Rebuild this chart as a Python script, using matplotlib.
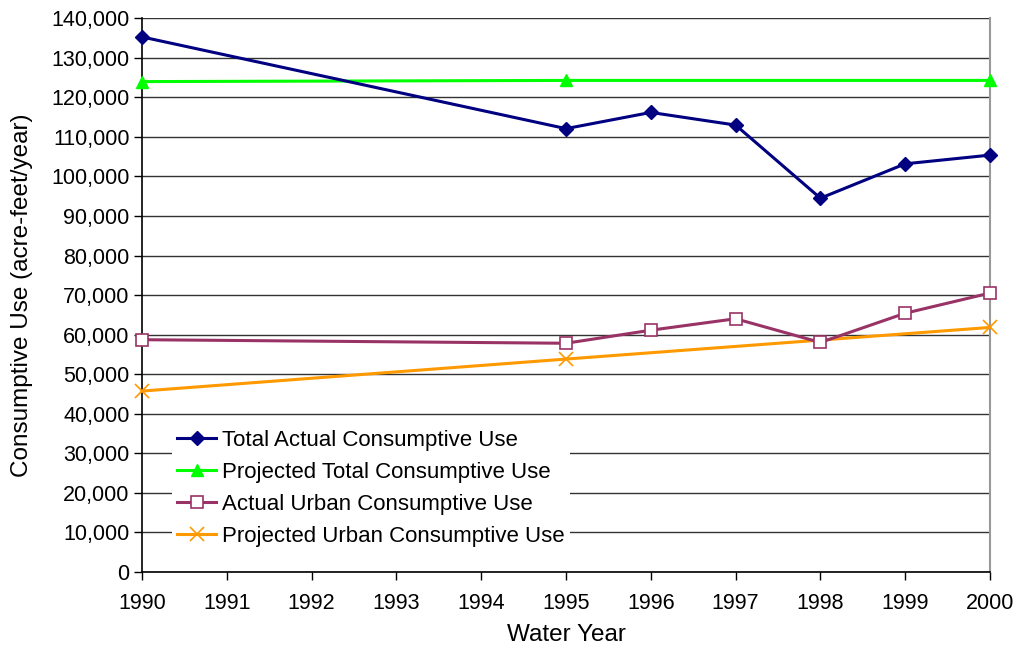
"""Consumptive use by water year, actual vs projected."""
import matplotlib
matplotlib.use("Agg")
import matplotlib.pyplot as plt
from matplotlib.ticker import FuncFormatter, MultipleLocator

plt.rcParams["font.family"] = ["Liberation Sans", "DejaVu Sans"]

years = [1990, 1995, 1996, 1997, 1998, 1999, 2000]
total_actual = [135300, 112100, 116200, 113000, 94500, 103200, 105400]
total_projected_years = [1990, 1995, 2000]
total_projected = [124000, 124300, 124300]
urban_actual = [58700, 57800, 61100, 64000, 58000, 65400, 70500]
urban_projected_years = [1990, 1995, 2000]
urban_projected = [45700, 53800, 61800]
year_ticks = list(range(1990, 2001))

fig = plt.figure(figsize=(10.18, 6.51), dpi=100)
ax = fig.add_axes([0.1395, 0.1218, 0.833, 0.850])

ax.plot(years, total_actual, color="#000080", linewidth=2.2, marker="D",
        markersize=7.5, label="Total Actual Consumptive Use", zorder=4,
        clip_on=False)
ax.plot(total_projected_years, total_projected, color="#00FF00", linewidth=2.2,
        marker="^", markersize=9, label="Projected Total Consumptive Use",
        zorder=3, clip_on=False)
ax.plot(years, urban_actual, color="#993366", linewidth=2.2, marker="s",
        markersize=9, markerfacecolor="white", markeredgecolor="#993366",
        markeredgewidth=1.2, label="Actual Urban Consumptive Use", zorder=4,
        clip_on=False)
ax.plot(urban_projected_years, urban_projected, color="#FF9900", linewidth=2.2,
        marker="x", markersize=10, markeredgewidth=1.2,
        label="Projected Urban Consumptive Use", zorder=3, clip_on=False)

ax.set_xlim(1990, 2000)
ax.set_ylim(0, 140000)
ax.set_xticks(year_ticks)
ax.yaxis.set_major_locator(MultipleLocator(10000))
ax.yaxis.set_major_formatter(FuncFormatter(lambda v, _: f"{int(v):,}"))
ax.grid(axis="y", color="#333333", linewidth=1.0)
ax.set_axisbelow(True)

ax.spines["top"].set_visible(False)
ax.spines["right"].set_color("#999999")
ax.spines["right"].set_linewidth(1.5)
ax.spines["left"].set_linewidth(1.2)
ax.spines["bottom"].set_linewidth(1.2)
ax.tick_params(axis="both", direction="out", length=6, width=1.0,
               labelsize=15.5, colors="black")
ax.tick_params(axis="y", pad=3)
ax.tick_params(axis="x", pad=9)

ax.set_xlabel("Water Year", fontsize=17.5)
ax.set_ylabel("Consumptive Use (acre-feet/year)", fontsize=17.5)
ax.xaxis.set_label_coords(0.5, -0.095)
ax.yaxis.set_label_coords(-0.1285, 0.5)

leg = ax.legend(loc="lower left", bbox_to_anchor=(0.035, 0.035), fontsize=16,
                frameon=True, fancybox=False, framealpha=1.0,
                handlelength=1.75, handletextpad=0.25, labelspacing=0.49,
                borderpad=0.25, borderaxespad=0.0)
leg.get_frame().set_edgecolor("none")
leg.get_frame().set_facecolor("white")
leg.set_zorder(5)

fig.savefig("out.png", dpi=100)
